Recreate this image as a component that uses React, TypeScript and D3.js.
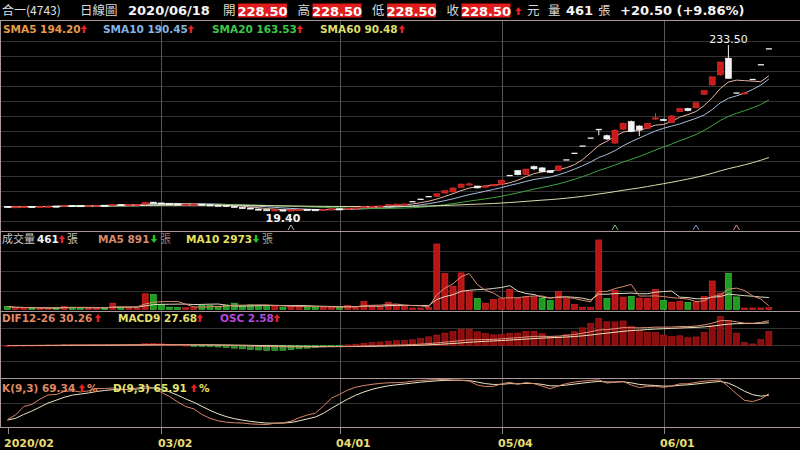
import * as d3 from "d3";

// trading days 2020/02/03 .. 2020/06/18
const dates = [
  "02/03", "02/04", "02/05", "02/06", "02/07", "02/10", "02/11", "02/12", "02/13", "02/14",
  "02/17", "02/18", "02/19", "02/20", "02/21", "02/24", "02/25", "02/26", "02/27",
  "03/02", "03/03", "03/04", "03/05", "03/06", "03/09", "03/10", "03/11", "03/12", "03/13",
  "03/16", "03/17", "03/18", "03/19", "03/20", "03/23", "03/24", "03/25", "03/26", "03/27", "03/30", "03/31",
  "04/01", "04/06", "04/07", "04/08", "04/09", "04/10", "04/13", "04/14", "04/15", "04/16", "04/17",
  "04/20", "04/21", "04/22", "04/23", "04/24", "04/27", "04/28", "04/29", "04/30",
  "05/04", "05/05", "05/06", "05/07", "05/08", "05/11", "05/12", "05/13", "05/14", "05/15",
  "05/18", "05/19", "05/20", "05/21", "05/22", "05/25", "05/26", "05/27", "05/28", "05/29",
  "06/01", "06/02", "06/03", "06/04", "06/05", "06/08", "06/09", "06/10", "06/11", "06/12",
  "06/15", "06/16", "06/17", "06/18",
];

const opens = [
  25.3, 24.8, 25.0, 25.3, 25.1, 25.4, 25.8, 25.6, 26.7, 26.4,
  26.2, 26.5, 26.9, 26.7, 27.9, 27.5, 27.8, 28.2, 30.8, 29.8,
  29.0, 28.6, 27.9, 28.2, 28.3, 27.5, 27.0, 26.6, 25.5, 24.0,
  23.4, 22.0, 21.2, 20.4, 20.8, 20.1, 20.9, 21.5, 21.2, 21.0,
  21.6, 22.3, 22.1, 23.0, 23.6, 25.0, 25.6, 26.2, 28.0, 28.3,
  31.35, 34.45, 37.9, 38.5, 42.6, 44.0, 50.0, 54.2, 51.6, 50.0,
  51.8, 53.5, 65.1, 71.6, 66.5, 76.6, 75.0, 71.4, 71.4, 85.25,
  93.75, 103.1, 113.4, 124.5, 116.5, 107.0, 125.0, 134.6, 129.0, 126.0,
  139.0, 137.5, 133.5, 147.5, 151.5, 152.5, 170.0, 182.0, 195.0, 216.5,
  171.5, 171.0, 189.0, 208.0, 228.5,
];
const highs = [
  25.5, 25.2, 25.5, 25.4, 25.6, 25.9, 25.9, 26.9, 26.8, 26.6,
  26.7, 27.0, 27.0, 28.3, 28.2, 27.9, 28.2, 30.8, 31.2, 30.0,
  29.2, 28.8, 28.4, 28.6, 28.4, 27.7, 27.2, 26.8, 25.6, 24.4,
  23.8, 22.4, 21.4, 21.3, 20.9, 21.0, 21.7, 21.6, 21.4, 21.8,
  22.5, 22.5, 23.2, 23.7, 25.3, 25.9, 26.3, 28.4, 28.8, 28.9,
  31.35, 34.45, 37.9, 41.65, 45.8, 50.3, 55.0, 56.5, 52.0, 52.0,
  54.5, 59.2, 65.1, 71.6, 73.6, 78.0, 76.0, 72.0, 77.8, 85.25,
  93.75, 103.1, 113.4, 124.5, 118.0, 125.0, 133.5, 136.0, 130.0, 133.0,
  145.5, 138.5, 143.0, 152.0, 152.5, 159.5, 174.9, 192.4, 211.6, 233.5,
  171.5, 173.0, 189.0, 208.0, 228.5,
];
const lows = [
  24.6, 24.7, 24.9, 25.0, 25.0, 25.3, 25.3, 25.6, 26.2, 26.0,
  26.1, 26.4, 26.4, 26.6, 27.3, 27.3, 27.6, 28.1, 29.5, 28.8,
  28.4, 27.9, 27.8, 28.0, 27.4, 26.9, 26.5, 25.8, 24.2, 23.2,
  22.3, 21.3, 20.2, 20.0, 19.4, 20.0, 20.8, 21.0, 20.8, 20.9,
  21.5, 21.8, 22.0, 22.9, 23.5, 24.8, 25.4, 26.0, 27.6, 28.0,
  31.35, 34.45, 37.9, 37.5, 42.0, 43.5, 49.5, 52.5, 48.5, 49.5,
  51.5, 53.0, 65.1, 65.5, 66.0, 72.0, 69.5, 68.5, 71.0, 85.25,
  93.75, 103.1, 113.4, 117.0, 111.0, 106.0, 124.0, 121.0, 116.0, 125.0,
  137.0, 136.0, 133.0, 147.0, 148.0, 152.0, 169.0, 181.0, 194.0, 190.5,
  171.5, 170.5, 189.0, 208.0, 228.5,
];
const closes = [
  24.8, 25.0, 25.3, 25.1, 25.4, 25.7, 25.5, 26.6, 26.4, 26.2,
  26.5, 26.8, 26.6, 27.8, 27.5, 27.7, 28.0, 30.5, 29.8, 29.0,
  28.6, 28.0, 28.2, 28.4, 27.5, 27.0, 26.6, 26.0, 24.5, 23.6,
  22.5, 21.6, 20.5, 21.0, 20.2, 20.8, 21.5, 21.2, 21.0, 21.6,
  22.3, 22.0, 23.0, 23.5, 25.0, 25.6, 26.0, 28.0, 28.3, 28.5,
  31.35, 34.45, 37.9, 41.65, 45.8, 49.0, 54.0, 54.4, 49.2, 51.6,
  53.8, 59.2, 65.1, 66.2, 73.5, 73.8, 70.5, 69.0, 77.5, 85.25,
  93.75, 103.1, 113.4, 124.5, 112.3, 123.5, 132.5, 122.0, 124.0, 132.5,
  139.5, 137.0, 142.0, 151.5, 149.0, 159.0, 174.9, 192.4, 211.6, 190.5,
  171.5, 171.8, 189.0, 208.0, 228.5,
];
// lots (張)
const volumes = [
  750, 350, 400, 300, 350, 300, 400, 800, 600, 500,
  300, 300, 350, 1580, 600, 400, 350, 3900, 3750, 1250,
  600, 500, 450, 450, 1000, 1000, 700, 1100, 1580, 1000,
  1150, 1000, 1000, 800, 500, 850, 850, 650, 650, 500,
  650, 500, 1000, 700, 2000, 1000, 700, 1830, 1200, 800,
  300, 350, 500, 16250, 9000, 5750, 9080, 4500, 2750, 1580,
  2500, 2750, 5000, 2750, 3080, 3080, 2830, 2250, 4500, 2750,
  1250, 580, 580, 17250, 2750, 4750, 3080, 3250, 2830, 2750,
  5000, 2250, 1830, 2080, 1750, 1830, 3250, 7080, 4080, 9000,
  3120, 300, 330, 250, 461,
];

const kdSeed = [12, 14];
const tickDates = ["02/03", "03/02", "04/01", "05/04", "06/01"];
const tickLabels = ["2020/02", "03/02", "04/01", "05/04", "06/01"];
const markerDates = ["03/24", "05/22", "06/05", "06/12"];

const stockName = "合一(4743)";
const chartType = "日線圖";
const quoteDate = "2020/06/18";
const quoteLabels = ["開", "高", "低", "收"];
const quoteValues = ["228.50", "228.50", "228.50", "228.50"];
const dayVolume = "461";
const changeText = "+20.50 (+9.86%)";
const smaPeriods = [5, 10, 20, 60];
const smaLabels = ["SMA5 194.20", "SMA10 190.45", "SMA20 163.53", "SMA60 90.48"];
const volLabels = ["461", "MA5 891", "MA10 2973"];
const macdLabels = ["DIF12-26 30.26", "MACD9 27.68", "OSC 2.58"];
const kdLabels = ["K(9,3) 69.34", "D(9,3) 65.91"];
const highLabel = "233.50";
const lowLabel = "19.40";

const FONT = "'DejaVu Sans', Verdana, 'Noto Sans CJK TC', sans-serif";
const CJK = "'Noto Sans CJK TC', sans-serif";
const UP = "#e42020";
const DOWN = "#22c422";
const BORDER = "#a89898";
const HGRID = "#333333";
const VGRID = "#585858";
const smaColors = ["#e6b4a2", "#a6bede", "#3ea640", "#dcdcae"];
const smaLegendColors = ["#e89a4a", "#86b4e4", "#3cc84a", "#dede6a"];

function sma(arr: number[], n: number) {
  return arr.map((_, i) => d3.mean(arr.slice(Math.max(0, i - n + 1), i + 1)) as number);
}
function ema(arr: number[], n: number) {
  const k = 2 / (n + 1);
  let prev = arr[0];
  return arr.map((v, i) => (prev = i === 0 ? v : prev + k * (v - prev)));
}

function Arrow({ x, y, up = true, color }: { x: number; y: number; up?: boolean; color: string }) {
  const h = 8, hw = 3.2, sw = 1.2, head = 4;
  const t = y - h;
  const pts = up
    ? [[x, t], [x + hw, t + head], [x + sw, t + head], [x + sw, y], [x - sw, y], [x - sw, t + head], [x - hw, t + head]]
    : [[x, y], [x + hw, y - head], [x + sw, y - head], [x + sw, t], [x - sw, t], [x - sw, y - head], [x - hw, y - head]];
  return <polygon points={pts.map((p) => p.join(",")).join(" ")} fill={color} />;
}

export default function App() {
  const x = d3.scaleBand().domain(dates).range([3.45, 772.95]);
  const cx = (d: string) => (x(d) ?? 0) + x.bandwidth() / 2;
  const bw = 6;

  const yP = d3.scaleLinear().domain([d3.min(lows)!, d3.max(highs)!]).range([211, 45]);
  const yV = d3.scaleLinear().domain([0, d3.max(volumes)! * 1.1]).range([309.5, 233]);
  const yKD = d3.scaleLinear().domain([0, 100]).range([427, 379]);

  const smas = smaPeriods.map((p) => sma(closes, p));
  const vma5 = sma(volumes, 5);
  const vma10 = sma(volumes, 10);

  const e12 = ema(closes, 12);
  const e26 = ema(closes, 26);
  const dif = closes.map((_, i) => e12[i] - e26[i]);
  const sig = ema(dif, 9);
  const osc = dif.map((v, i) => v - sig[i]);
  const mLine = d3.max([...dif, ...sig].map(Math.abs))!;
  const mOsc = d3.max(osc.map(Math.abs))!;
  const zeroY = 345.5;
  const yDif = d3.scaleLinear().domain([-mLine, mLine]).range([zeroY + 25, zeroY - 25]);
  const yOsc = d3.scaleLinear().domain([-mOsc, mOsc]).range([zeroY + 29, zeroY - 29]);

  let k = kdSeed[0], dv = kdSeed[1];
  const kd = closes.map((c, i) => {
    const lo = d3.min(lows.slice(Math.max(0, i - 8), i + 1))!;
    const hi = d3.max(highs.slice(Math.max(0, i - 8), i + 1))!;
    const rsv = hi === lo ? 50 : ((c - lo) / (hi - lo)) * 100;
    k = (k * 2) / 3 + rsv / 3;
    dv = (dv * 2) / 3 + k / 3;
    return [k, dv];
  });

  const line = (scale: d3.ScaleLinear<number, number>) =>
    d3.line<number>().x((_, i) => cx(dates[i])).y((v) => scale(v));

  const hiIdx = highs.indexOf(d3.max(highs)!);
  const loIdx = lows.indexOf(d3.min(lows)!);

  const priceGrid = d3.range(41.5, 225, 15);
  const volGrid = [251.5, 271.5, 291.5];
  const macdGrid = [328.5, zeroY, 361.5];
  const kdGrid = [403.5];
  const borders = [20.5, 231.5, 311.5, 378.5, 427.5];
  const markerColors = ["#b8b8b8", "#7fc08a", "#8c94e0", "#e08a8a"];

  return (
    <div>
      <style>{"body{margin:0;background:#000}"}</style>
      <svg width={800} height={450} style={{ display: "block", background: "#000" }} fontFamily={FONT}>
        <rect width={800} height={450} fill="#000" />

        {/* grid */}
        {[...priceGrid, ...volGrid, ...macdGrid, ...kdGrid].map((g, i) => (
          <line key={"h" + i} x1={0} x2={800} y1={g} y2={g} stroke={HGRID} strokeWidth={1} />
        ))}
        {tickDates.map((d, i) => (
          <g key={d}>
            {i > 0 && <line x1={Math.round(cx(d)) + 0.5} x2={Math.round(cx(d)) + 0.5} y1={21} y2={427} stroke={VGRID} />}
            <line x1={Math.round(cx(d)) + 0.5} x2={Math.round(cx(d)) + 0.5} y1={427} y2={434} stroke="#8a8a8a" />
            <text x={cx(d) - 3.5} y={447} fontSize={11} fontWeight="bold" fill="#e8dc72">
              {tickLabels[i]}
            </text>
          </g>
        ))}
        {borders.map((b) => (
          <line key={b} x1={0} x2={800} y1={b} y2={b} stroke={BORDER} strokeWidth={1} />
        ))}
        <line x1={0.5} x2={0.5} y1={21} y2={427} stroke={BORDER} />

        {/* SMA lines */}
        {smas.map((s, i) => (
          <path key={"sma" + i} d={line(yP)(s) ?? ""} fill="none" stroke={smaColors[i]} strokeWidth={1} />
        ))}

        {/* candles */}
        {dates.map((d, i) => {
          const o = opens[i], c = closes[i];
          const xc = cx(d);
          const col = c > o ? "#c81c1c" : "#f2f2f2";
          const wick = c > o ? "#e03232" : "#f2f2f2";
          if (Math.abs(c - o) < 0.01) {
            return (
              <g key={d}>
                {highs[i] > lows[i] && <line x1={xc} x2={xc} y1={yP(highs[i])} y2={yP(lows[i])} stroke="#f2f2f2" />}
                <line x1={xc - bw / 2} x2={xc + bw / 2} y1={yP(c)} y2={yP(c)} stroke="#f2f2f2" strokeWidth={1.3} />
              </g>
            );
          }
          const top = yP(Math.max(o, c));
          const h = Math.max(1.2, yP(Math.min(o, c)) - top);
          return (
            <g key={d}>
              <line x1={xc} x2={xc} y1={yP(highs[i])} y2={yP(lows[i])} stroke={wick} />
              <rect x={xc - bw / 2} y={top} width={bw} height={h} fill={col} stroke={c > o ? "#e03030" : "#ffffff"} strokeWidth={0.6} />
            </g>
          );
        })}
        <text x={cx(dates[hiIdx])} y={43} textAnchor="middle" fontSize={11} fill="#f4f4f4">
          {highLabel}
        </text>
        <text x={cx(dates[loIdx])} y={222} textAnchor="middle" fontSize={11} fontWeight="bold" fill="#f4f4f4">
          {lowLabel}
        </text>
        {markerDates.map((d, i) => (
          <path
            key={d}
            d={`M${cx(d) - 3},230 L${cx(d)},225 L${cx(d) + 3},230`}
            fill="none"
            stroke={markerColors[i]}
          />
        ))}

        {/* volume */}
        {dates.map((d, i) => {
          const up = i === 0 ? closes[0] >= opens[0] : closes[i] >= closes[i - 1];
          const top = yV(volumes[i]);
          return (
            <rect
              key={d}
              x={cx(d) - bw / 2}
              y={Math.min(top, yV(0) - 1.5)}
              width={bw}
              height={Math.max(1.5, yV(0) - top)}
              fill={up ? "#b81414" : "#1f9c1f"}
              stroke={up ? "#dc2a2a" : "#3fd03f"}
              strokeWidth={0.6}
            />
          );
        })}
        <path d={line(yV)(vma10) ?? ""} fill="none" stroke="#ddd8c4" strokeWidth={1} />
        <path d={line(yV)(vma5) ?? ""} fill="none" stroke="#d98a6a" strokeWidth={1} />

        {/* MACD */}
        {dates.map((d, i) => {
          const v = osc[i];
          const y0 = yOsc(0), y1 = yOsc(v);
          return (
            <rect
              key={d}
              x={cx(d) - bw / 2}
              y={Math.min(y0, y1)}
              width={bw}
              height={Math.max(0.8, Math.abs(y1 - y0))}
              fill={v >= 0 ? "#8e0c0c" : "#2a8a2a"}
              stroke={v >= 0 ? "#b81c1c" : "#46c046"}
              strokeWidth={0.6}
            />
          );
        })}
        <path d={line(yDif)(sig) ?? ""} fill="none" stroke="#e8e2b4" strokeWidth={1} />
        <path d={line(yDif)(dif) ?? ""} fill="none" stroke="#e0907a" strokeWidth={1} />

        {/* KD */}
        <path d={line(yKD)(kd.map((p) => p[1])) ?? ""} fill="none" stroke="#ece4c2" strokeWidth={1} />
        <path d={line(yKD)(kd.map((p) => p[0])) ?? ""} fill="none" stroke="#d98466" strokeWidth={1} />

        {/* header */}
        <rect x={0} y={0} width={800} height={20} fill="#000" />
        <text x={2} y={15} fontSize={12} fill="#e0e0e0" fontFamily={CJK}>
          {stockName}
        </text>
        <text x={80} y={15} fontSize={12.5} fill="#d8d8d8" fontFamily={CJK}>
          {chartType}
        </text>
        <text x={128} y={15} fontSize={13} fontWeight="bold" fill="#f4f4f4">
          {quoteDate}
        </text>
        {quoteLabels.map((l, i) => {
          const bx = 238 + i * 74.5;
          return (
            <g key={l}>
              <text x={bx - 15} y={15} fontSize={12.5} fill="#d8d8d8" fontFamily={CJK}>
                {l}
              </text>
              <rect x={bx} y={3.5} width={49} height={14} fill="#e01c1c" />
              <text x={bx + 24.5} y={15.5} textAnchor="middle" fontSize={13} fontWeight="bold" fill="#fff">
                {quoteValues[i]}
              </text>
            </g>
          );
        })}
        <Arrow x={518.5} y={15} color={UP} />
        <text x={527} y={15} fontSize={12.5} fill="#d8d8d8" fontFamily={CJK}>元</text>
        <text x={548} y={15} fontSize={12.5} fill="#d8d8d8" fontFamily={CJK}>量</text>
        <text x={566} y={15} fontSize={13} fontWeight="bold" fill="#f4f4f4">{dayVolume}</text>
        <text x={598} y={15} fontSize={12.5} fill="#d8d8d8" fontFamily={CJK}>張</text>
        <text x={620} y={15} fontSize={13} fontWeight="bold" fill="#f4f4f4">{changeText}</text>

        {/* price legend */}
        {smaLabels.map((l, i) => {
          const lx = [3, 103, 212, 320][i];
          const ax = [84, 191, 300, 402][i];
          return (
            <g key={l}>
              <text x={lx} y={33} fontSize={10.5} fontWeight="bold" fill={smaLegendColors[i]}>
                {l}
              </text>
              <Arrow x={ax} y={33} color={UP} />
            </g>
          );
        })}

        {/* volume legend */}
        <text x={2} y={243} fontSize={11} fill="#c8c8c8" fontFamily={CJK}>成交量</text>
        <text x={37} y={243} fontSize={10.5} fontWeight="bold" fill="#f0f0f0">{volLabels[0]}</text>
        <Arrow x={62} y={243} color={UP} />
        <text x={67} y={243} fontSize={11} fill="#c8c8c8" fontFamily={CJK}>張</text>
        <text x={98} y={243} fontSize={10.5} fontWeight="bold" fill="#d98a6a">{volLabels[1]}</text>
        <Arrow x={154} y={243} up={false} color={DOWN} />
        <text x={160} y={243} fontSize={11} fill="#a47a6a" fontFamily={CJK}>張</text>
        <text x={186} y={243} fontSize={10.5} fontWeight="bold" fill="#e6e060">{volLabels[2]}</text>
        <Arrow x={256} y={243} up={false} color={DOWN} />
        <text x={262} y={243} fontSize={11} fill="#a8a47a" fontFamily={CJK}>張</text>

        {/* MACD legend */}
        <text x={2} y={322} fontSize={10.5} fontWeight="bold" fill="#e08a64">{macdLabels[0]}</text>
        <Arrow x={98} y={322} color={UP} />
        <text x={118} y={322} fontSize={10.5} fontWeight="bold" fill="#e6e070">{macdLabels[1]}</text>
        <Arrow x={200} y={322} color={UP} />
        <text x={220} y={322} fontSize={10.5} fontWeight="bold" fill="#b848d8">{macdLabels[2]}</text>
        <Arrow x={277} y={322} color={UP} />

        {/* KD legend */}
        <text x={2} y={392} fontSize={10.5} fontWeight="bold" fill="#e08a64">{kdLabels[0]}</text>
        <Arrow x={82} y={392} color={UP} />
        <text x={87} y={392} fontSize={10.5} fontWeight="bold" fill="#e08a64">%</text>
        <text x={113} y={392} fontSize={10.5} fontWeight="bold" fill="#e6e070">{kdLabels[1]}</text>
        <Arrow x={194} y={392} color={UP} />
        <text x={199} y={392} fontSize={10.5} fontWeight="bold" fill="#e6e070">%</text>
      </svg>
    </div>
  );
}
